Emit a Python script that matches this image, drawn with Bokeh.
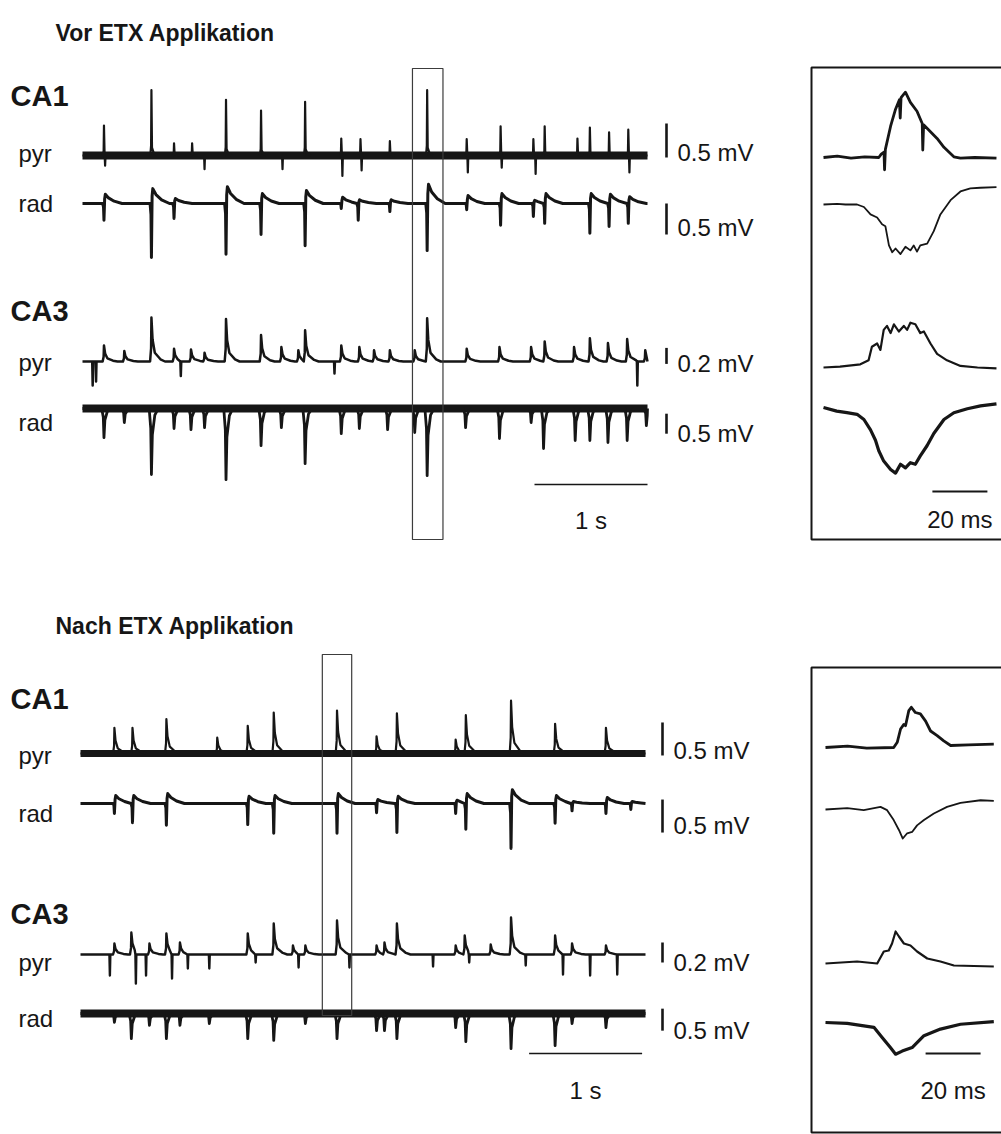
import numpy as np
from bokeh.plotting import figure
from bokeh.models import Range1d
from bokeh.embed import file_html
from bokeh.resources import INLINE
from bokeh.core.properties import value

# ====================== DATA ======================
TRACE_DURATION_S = 5.0
TITLES = ["Vor ETX Applikation", "Nach ETX Applikation"]
REGIONS = ["CA1", "CA3"]
LAYERS = ["pyr", "rad"]
SCALE_MV = [0.5, 0.5, 0.2, 0.5]
SCALE_LABELS = ["0.5 mV", "0.5 mV", "0.2 mV", "0.5 mV"]
TIME_BAR_S = 1.0
TIME_BAR_LABEL = "1 s"
INSET_BAR_MS = 20.0
INSET_BAR_LABEL = "20 ms"

# --- Vor ETX Applikation: event times (s) and amplitudes (mV) ---
vor_ca1_pyr_t = [0.19, 0.61, 0.81, 0.97, 1.27, 1.58, 1.97, 2.29, 2.46, 2.72, 3.05, 3.40, 3.70, 3.99, 4.09, 4.38, 4.49, 4.66, 4.83]
vor_ca1_pyr_mv = [0.44, 0.96, 0.18, 0.18, 0.82, 0.66, 0.79, 0.25, 0.24, 0.21, 0.96, 0.24, 0.43, 0.24, 0.43, 0.25, 0.41, 0.34, 0.38]
vor_ca1_pyr_notch_t = [0.20, 1.08, 1.77, 2.30, 2.47, 3.41, 3.71, 4.01, 4.84]
vor_ca1_pyr_notch_mv = [-0.15, -0.20, -0.20, -0.30, -0.22, -0.25, -0.18, -0.27, -0.25]

vor_ca1_rad_t = [0.19, 0.61, 0.81, 1.27, 1.58, 1.97, 2.29, 2.44, 2.72, 3.05, 3.40, 3.70, 3.99, 4.09, 4.49, 4.66, 4.83]
vor_ca1_rad_trough_mv = [0.27, 0.87, 0.24, 0.82, 0.50, 0.68, 0.08, 0.27, 0.13, 0.76, 0.10, 0.35, 0.21, 0.32, 0.48, 0.37, 0.32]
vor_ca1_rad_hump_mv = [0.15, 0.24, 0.08, 0.27, 0.16, 0.21, 0.10, 0.06, 0.06, 0.31, 0.13, 0.16, 0.05, 0.16, 0.16, 0.15, 0.11]

vor_ca3_pyr_t = [0.19, 0.37, 0.61, 0.81, 0.96, 1.08, 1.27, 1.58, 1.76, 1.91, 1.97, 2.29, 2.45, 2.58, 2.72, 2.94, 3.05, 3.40, 3.69, 3.97, 4.09, 4.35, 4.49, 4.65, 4.82, 4.98]
vor_ca3_pyr_mv = [0.20, 0.13, 0.55, 0.16, 0.15, 0.11, 0.53, 0.33, 0.18, 0.14, 0.39, 0.20, 0.18, 0.14, 0.14, 0.14, 0.54, 0.16, 0.18, 0.18, 0.25, 0.18, 0.29, 0.23, 0.28, 0.14]
vor_ca3_pyr_notch_t = [0.09, 0.12, 0.87, 2.23, 4.91]
vor_ca3_pyr_notch_mv = [-0.30, -0.25, -0.18, -0.15, -0.30]

vor_ca3_rad_t = [0.19, 0.37, 0.61, 0.81, 0.96, 1.08, 1.27, 1.58, 1.76, 1.97, 2.29, 2.45, 2.70, 2.94, 3.05, 3.39, 3.69, 3.97, 4.08, 4.36, 4.49, 4.65, 4.82, 4.99]
vor_ca3_rad_mv = [-0.73, -0.35, -1.65, -0.50, -0.53, -0.48, -1.78, -0.93, -0.48, -1.38, -0.63, -0.50, -0.53, -0.60, -1.68, -0.48, -0.75, -0.35, -1.00, -0.80, -0.80, -0.85, -0.80, -0.43]

vor_window_s = [2.92, 3.19]

# --- Nach ETX Applikation ---
nach_ca1_pyr_t = [0.30, 0.46, 0.76, 1.21, 1.48, 1.71, 2.27, 2.62, 2.80, 3.32, 3.41, 3.81, 4.20, 4.65]
nach_ca1_pyr_mv = [0.39, 0.39, 0.52, 0.24, 0.42, 0.62, 0.65, 0.26, 0.61, 0.21, 0.58, 0.80, 0.45, 0.39]

nach_ca1_rad_t = [0.30, 0.46, 0.76, 1.48, 1.71, 2.27, 2.62, 2.80, 3.32, 3.41, 3.81, 4.20, 4.35, 4.65, 4.87]
nach_ca1_rad_trough_mv = [0.15, 0.29, 0.33, 0.32, 0.45, 0.45, 0.14, 0.44, 0.15, 0.39, 0.68, 0.30, 0.11, 0.15, 0.09]
nach_ca1_rad_hump_mv = [0.12, 0.12, 0.15, 0.11, 0.12, 0.15, 0.06, 0.11, 0.05, 0.15, 0.21, 0.12, 0.03, 0.09, 0.03]

nach_ca3_pyr_t = [0.30, 0.45, 0.61, 0.76, 0.88, 1.48, 1.71, 1.88, 1.99, 2.27, 2.62, 2.69, 2.80, 3.32, 3.40, 3.63, 3.81, 4.20, 4.35, 4.65]
nach_ca3_pyr_mv = [0.11, 0.22, 0.11, 0.21, 0.12, 0.21, 0.31, 0.09, 0.09, 0.34, 0.09, 0.12, 0.31, 0.09, 0.19, 0.10, 0.37, 0.19, 0.11, 0.09]
nach_ca3_pyr_notch_t = [0.26, 0.49, 0.58, 0.81, 0.95, 1.14, 1.55, 1.93, 2.38, 3.12, 3.44, 3.94, 4.27, 4.51, 4.75]
nach_ca3_pyr_notch_mv = [-0.21, -0.29, -0.21, -0.24, -0.14, -0.14, -0.08, -0.13, -0.13, -0.12, -0.08, -0.11, -0.20, -0.21, -0.20]

nach_ca3_rad_t = [0.30, 0.45, 0.61, 0.76, 0.88, 1.14, 1.48, 1.71, 1.99, 2.27, 2.62, 2.69, 2.80, 3.32, 3.41, 3.81, 4.20, 4.35, 4.65]
nach_ca3_rad_mv = [-0.20, -0.57, -0.27, -0.57, -0.27, -0.23, -0.57, -0.61, -0.23, -0.57, -0.39, -0.39, -0.57, -0.32, -0.64, -0.80, -0.73, -0.23, -0.32]

nach_window_s = [2.14, 2.40]

# --- Insets (expanded boxed event): time (ms), voltage (mV) ---
vor_in_ca1_pyr_ms = [0, 5, 10, 15, 20.1, 21.0, 22.0, 22.2, 22.5, 24.4, 26.2, 27.6, 27.9, 28.2, 29.8, 31.6, 34.0, 35.9, 36.1, 36.4, 38.9, 41.3, 43.8, 47.4, 49.8, 55, 62.9]
vor_in_ca1_pyr_mv = [0, 0.02, -0.01, 0.01, 0.0, 0.05, 0.08, -0.18, 0.12, 0.46, 0.71, 0.85, 0.58, 0.88, 0.96, 0.81, 0.68, 0.50, 0.11, 0.48, 0.38, 0.28, 0.15, 0.01, -0.01, 0.0, -0.01]
vor_in_ca1_rad_ms = [0, 5, 8, 12.2, 14.7, 17.1, 19.5, 21.3, 22.5, 23.8, 25, 26.2, 28, 29.8, 31.6, 32.8, 34, 35.2, 37.7, 40.1, 42.5, 46.2, 49.8, 53.4, 57, 62.9]
vor_in_ca1_rad_mv = [0, 0.01, 0.0, 0.0, -0.04, -0.16, -0.21, -0.32, -0.35, -0.66, -0.77, -0.71, -0.80, -0.68, -0.74, -0.66, -0.76, -0.66, -0.63, -0.43, -0.16, 0.07, 0.21, 0.26, 0.27, 0.28]
vor_in_ca3_pyr_ms = [0, 6, 13.4, 16.4, 17.6, 19.5, 20.7, 21.9, 23.1, 24.4, 25.6, 27.4, 29.2, 30.4, 31.6, 33.4, 35.2, 36.5, 38.9, 41.3, 44.9, 49.8, 56, 62.9]
vor_in_ca3_pyr_mv = [0, 0.01, 0.04, 0.09, 0.26, 0.30, 0.22, 0.47, 0.52, 0.43, 0.54, 0.45, 0.52, 0.47, 0.56, 0.54, 0.43, 0.45, 0.30, 0.17, 0.09, 0.02, 0.0, -0.01]
vor_in_ca3_rad_ms = [0, 4.8, 8.5, 12.2, 14.7, 17.1, 18.9, 20.1, 21.9, 24.4, 26.2, 28, 29.8, 31.6, 33.4, 35.2, 37.7, 40.1, 43.8, 47.4, 52.3, 57.1, 62.9]
vor_in_ca3_rad_mv = [0, -0.09, -0.13, -0.17, -0.30, -0.56, -0.82, -1.08, -1.34, -1.55, -1.64, -1.42, -1.51, -1.38, -1.42, -1.21, -0.95, -0.65, -0.30, -0.13, -0.03, 0.04, 0.09]

nach_in_ca1_pyr_ms = [0, 8, 15, 24.8, 26.1, 27.3, 28.5, 29.1, 30.3, 31.2, 32.7, 34.5, 36.4, 38.2, 40.6, 43, 45.5, 52, 61.2]
nach_in_ca1_pyr_mv = [0, 0.02, -0.01, 0.0, 0.08, 0.28, 0.35, 0.33, 0.56, 0.61, 0.53, 0.51, 0.40, 0.25, 0.18, 0.10, 0.03, 0.04, 0.05]
nach_in_ca1_rad_ms = [0, 7.9, 13.9, 20, 22.4, 24.8, 26.7, 28.1, 29.7, 31.5, 33.3, 35.8, 39.4, 44.2, 49.1, 56.4, 61.2]
nach_in_ca1_rad_mv = [0, 0.02, -0.01, 0.04, -0.01, -0.16, -0.31, -0.44, -0.36, -0.34, -0.24, -0.16, -0.06, 0.04, 0.10, 0.14, 0.13]
nach_in_ca3_pyr_ms = [0, 11.5, 18.8, 21.2, 23, 24.2, 25.5, 26.7, 28.5, 30.9, 33.3, 37, 41.8, 46.7, 61.2]
nach_in_ca3_pyr_mv = [0, 0.02, 0.0, 0.12, 0.13, 0.20, 0.32, 0.27, 0.20, 0.18, 0.12, 0.05, 0.02, -0.02, -0.03]
nach_in_ca3_rad_ms = [0, 7.9, 17.6, 20.6, 23.6, 25.5, 27.9, 31.5, 35.8, 41.8, 49.1, 61.2]
nach_in_ca3_rad_mv = [0, -0.02, -0.11, -0.34, -0.57, -0.72, -0.65, -0.57, -0.30, -0.15, -0.04, 0.02]

# ====================== STYLE / LAYOUT ======================
W, H = 1001, 1134
FONT = "Liberation Sans"
INK = "#161616"
PX_PER_S = 113.0
PX_PER_MS = 2.75
LABEL_SIZE = "24px"

# event waveform shapes: (dt in s, coefficient of amplitude a, coefficient of amplitude b)
SHAPES = {
    "spike": [(-0.010, 0.0, 0), (-0.003, 0.15, 0), (0.0, 1.0, 0), (0.005, 0.12, 0), (0.02, 0.04, 0), (0.05, 0.0, 0)],
    "wave": [(-0.012, 0.0, 0), (-0.003, 0.3, 0), (0.0, 1.0, 0), (0.010, 0.5, 0), (0.030, 0.2, 0), (0.080, 0.05, 0), (0.12, 0.0, 0)],
    "notch": [(-0.004, 0.0, 0), (0.0, 1.0, 0), (0.004, 0.0, 0)],
    "trough": [(-0.020, 0.0, 0), (-0.006, 0.3, 0), (0.0, 1.0, 0), (0.008, 0.4, 0), (0.030, 0.1, 0), (0.060, 0.0, 0)],
    "sharpwave": [(-0.012, 0, 0), (-0.004, -0.2, 0), (0.0, -1.0, 0), (0.006, 0, 0.5), (0.012, 0, 1.0),
                  (0.04, 0, 0.6), (0.09, 0, 0.25), (0.16, 0, 0.0)],
}


def events(shape, times, a, b=None):
    b = b if b is not None else [0.0] * len(times)
    return [(t, shape, ai, bi) for t, ai, bi in zip(times, a, b)]


def build_trace(evs, duration):
    evs = sorted(evs, key=lambda e: e[0])
    ts, vs = [0.0], [0.0]
    for i, (t, shape, a, b) in enumerate(evs):
        nxt = duration
        if i + 1 < len(evs):
            t2, s2 = evs[i + 1][0], evs[i + 1][1]
            nxt = t2 + SHAPES[s2][0][0]
        for dt, ca, cb in SHAPES[shape]:
            tv = t + dt
            if tv <= ts[-1] or tv >= nxt or tv > duration:
                continue
            ts.append(tv)
            vs.append(ca * a + cb * b)
    if ts[-1] < duration:
        ts.append(duration)
        vs.append(0.0)
    return ts, vs


SECTIONS = [
    dict(key="vor", title=TITLES[0], title_xy=(55, 32), x0=82, inset_x0=823,
         inset_box=(811, 67, 539), window=vor_window_s, window_y=(68, 539),
         region_y=[95, 310], layer_y=[153, 203, 362, 422],
         base=[155, 203, 361, 408], k=[68, 62, 80, 40],
         inset_base=[157, 204, 367, 407],
         traces=[
             events("spike", vor_ca1_pyr_t, vor_ca1_pyr_mv) + events("notch", vor_ca1_pyr_notch_t, vor_ca1_pyr_notch_mv),
             events("sharpwave", vor_ca1_rad_t, vor_ca1_rad_trough_mv, vor_ca1_rad_hump_mv),
             events("wave", vor_ca3_pyr_t, vor_ca3_pyr_mv) + events("notch", vor_ca3_pyr_notch_t, vor_ca3_pyr_notch_mv),
             events("trough", vor_ca3_rad_t, vor_ca3_rad_mv),
         ],
         insets=[(vor_in_ca1_pyr_ms, vor_in_ca1_pyr_mv), (vor_in_ca1_rad_ms, vor_in_ca1_rad_mv),
                 (vor_in_ca3_pyr_ms, vor_in_ca3_pyr_mv), (vor_in_ca3_rad_ms, vor_in_ca3_rad_mv)],
         band=[8, 0, 0, 8], lw=[2.2, 3.0, 2.5, 2.8], inset_lw=[2.8, 1.8, 2.2, 3.2],
         bar_x=666, bar_start=[-0.03, -0.5, -0.03, -0.63], label_x=677, label_y=[152, 227, 363, 433],
         time_bar=(4.0, 484), time_label_y=520, inset_bar=(39.6, 491), inset_label_y=519),
    dict(key="nach", title=TITLES[1], title_xy=(55, 625), x0=80, inset_x0=825,
         inset_box=(811, 667, 1132), window=nach_window_s, window_y=(654, 1015),
         region_y=[698, 913], layer_y=[755, 813, 962, 1018],
         base=[753, 803, 954, 1013], k=[66, 66, 100, 44],
         inset_base=[747, 809, 963, 1022],
         traces=[
             events("wave", nach_ca1_pyr_t, nach_ca1_pyr_mv),
             events("sharpwave", nach_ca1_rad_t, nach_ca1_rad_trough_mv, nach_ca1_rad_hump_mv),
             events("wave", nach_ca3_pyr_t, nach_ca3_pyr_mv) + events("notch", nach_ca3_pyr_notch_t, nach_ca3_pyr_notch_mv),
             events("trough", nach_ca3_rad_t, nach_ca3_rad_mv),
         ],
         insets=[(nach_in_ca1_pyr_ms, nach_in_ca1_pyr_mv), (nach_in_ca1_rad_ms, nach_in_ca1_rad_mv),
                 (nach_in_ca3_pyr_ms, nach_in_ca3_pyr_mv), (nach_in_ca3_rad_ms, nach_in_ca3_rad_mv)],
         band=[7, 0, 0, 8], lw=[2.2, 3.0, 2.4, 2.8], inset_lw=[2.8, 1.8, 2.2, 3.2],
         bar_x=662, bar_start=[-0.03, -0.44, -0.08, -0.39], label_x=673, label_y=[750, 825, 962, 1030],
         time_bar=(3.97, 1053), time_label_y=1090, inset_bar=(36.4, 1053), inset_label_y=1090),
]

# ====================== FIGURE ======================
p = figure(width=W, height=H, x_range=Range1d(0, W), y_range=Range1d(H, 0),
           x_axis_type=None, y_axis_type=None, toolbar_location=None,
           output_backend="svg", min_border=0, title=None)
p.outline_line_color = None
p.background_fill_color = "white"
p.border_fill_color = "white"


def x_range_for(x0_px, px_per_unit):
    start = -x0_px / px_per_unit
    return Range1d(start, start + W / px_per_unit)


def y_range_for(base_px, px_per_mv):
    return Range1d((base_px - H) / px_per_mv, base_px / px_per_mv)


def txt(x, y, s, size, bold=False, align="left"):
    p.text(x=[x], y=[y], text=[s], text_font=value(FONT), text_font_size=value(size),
           text_font_style="bold" if bold else "normal", text_align=align,
           text_baseline="alphabetic", text_color=INK)


for sec in SECTIONS:
    key = sec["key"]
    tname = f"{key}_t"
    iname = f"{key}_ms"
    p.extra_x_ranges[tname] = x_range_for(sec["x0"], PX_PER_S)
    p.extra_x_ranges[iname] = x_range_for(sec["inset_x0"], PX_PER_MS)

    # headings
    tx, ty = sec["title_xy"]
    txt(tx, ty, sec["title"], "23px", bold=True)
    for r, ry in zip(REGIONS, sec["region_y"]):
        txt(10, ry, r, "29px", bold=True)
    for j, ly in enumerate(sec["layer_y"]):
        txt(18, ly, LAYERS[j % 2], LABEL_SIZE)

    for j in range(4):
        yname = f"{key}_y{j}"
        p.extra_y_ranges[yname] = y_range_for(sec["base"][j], sec["k"][j])
        iy = f"{key}_iy{j}"
        p.extra_y_ranges[iy] = y_range_for(sec["inset_base"][j], sec["k"][j])

        ts, vs = build_trace(sec["traces"][j], TRACE_DURATION_S)
        if sec["band"][j]:
            p.line([0, TRACE_DURATION_S], [0, 0], x_range_name=tname, y_range_name=yname,
                   line_color=INK, line_width=sec["band"][j], line_cap="butt")
        p.line(ts, vs, x_range_name=tname, y_range_name=yname, line_color=INK,
               line_width=sec["lw"][j], line_join="round")

        ims, imv = sec["insets"][j]
        p.line(ims, imv, x_range_name=iname, y_range_name=iy, line_color=INK,
               line_width=sec["inset_lw"][j], line_join="round")

        # amplitude scale bar
        b0 = sec["bar_start"][j]
        p.segment(x0=[sec["bar_x"]], y0=[b0], x1=[sec["bar_x"]], y1=[b0 + SCALE_MV[j]],
                  y_range_name=yname, line_color=INK, line_width=2.6)
        txt(sec["label_x"], sec["label_y"][j], SCALE_LABELS[j], LABEL_SIZE)

    # time scale bar
    t0, ty_bar = sec["time_bar"]
    p.segment(x0=[t0], y0=[ty_bar], x1=[t0 + TIME_BAR_S], y1=[ty_bar], x_range_name=tname,
              line_color=INK, line_width=1.3)
    p.text(x=[t0 + TIME_BAR_S / 2], y=[sec["time_label_y"]], text=[TIME_BAR_LABEL], x_range_name=tname,
           text_font=value(FONT), text_font_size=value(LABEL_SIZE), text_align="center",
           text_baseline="alphabetic", text_color=INK)

    # inset time scale bar
    m0, my_bar = sec["inset_bar"]
    p.segment(x0=[m0], y0=[my_bar], x1=[m0 + INSET_BAR_MS], y1=[my_bar], x_range_name=iname,
              line_color=INK, line_width=2.0)
    p.text(x=[m0 + INSET_BAR_MS / 2], y=[sec["inset_label_y"]], text=[INSET_BAR_LABEL], x_range_name=iname,
           text_font=value(FONT), text_font_size=value(LABEL_SIZE), text_align="center",
           text_baseline="alphabetic", text_color=INK)

    # highlight window over the traces
    w0, w1 = sec["window"]
    wy0, wy1 = sec["window_y"]
    p.quad(left=[w0], right=[w1], top=[wy0], bottom=[wy1], x_range_name=tname,
           fill_color=None, line_color="#3c3c3c", line_width=1.2)

    # inset frame (open to the right edge)
    bx, by0, by1 = sec["inset_box"]
    p.quad(left=[bx], right=[W + 10], top=[by0], bottom=[by1], fill_color=None,
           line_color=INK, line_width=2.0)

open("out.html", "w").write(file_html(p, INLINE))
